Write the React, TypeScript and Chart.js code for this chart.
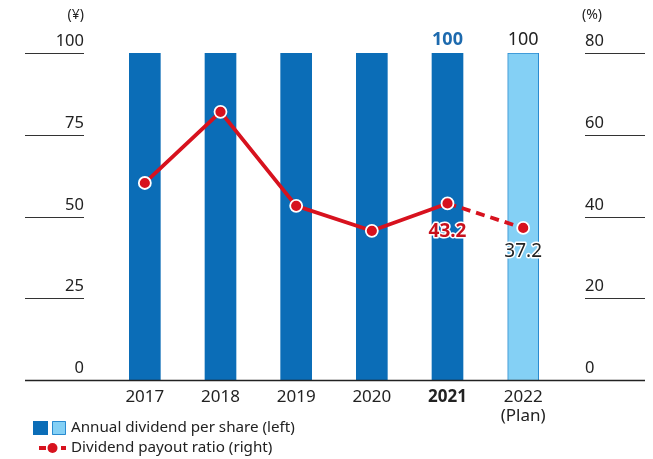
import React, { useEffect, useRef } from "react";
import { Chart, registerables } from "chart.js";

Chart.register(...registerables);

const years = ["2017", "2018", "2019", "2020", "2021", "2022"];
const dividends = [100, 100, 100, 100, 100, 100];
const payoutRatio = [48.2, 65.6, 42.6, 36.5, 43.2, 37.2];
const leftTicks = [0, 25, 50, 75, 100];
const rightTicks = [0, 20, 40, 60, 80];

const DARK = "#0B6DB7";
const LIGHT = "#84D0F5";
const LIGHT_BORDER = "#2A8BD0";
const RED = "#D7121E";
const FONT = "'Noto Sans', 'Open Sans', sans-serif";

const overlay = {
  id: "overlay",
  afterDatasetsDraw(chart: any) {
    const ctx = chart.ctx;
    const x = chart.scales.x;
    const y = chart.scales.y;
    const y1 = chart.scales.y1;
    ctx.save();
    // left axis
    ctx.strokeStyle = "#333";
    ctx.lineWidth = 1.2;
    ctx.fillStyle = "#222";
    ctx.font = `16.5px ${FONT}`;
    ctx.textBaseline = "middle";
    leftTicks.forEach((v) => {
      const py = Math.round(y.getPixelForValue(v)) + 0.5;
      if (v !== 0) {
        ctx.beginPath();
        ctx.moveTo(25, py);
        ctx.lineTo(84, py);
        ctx.stroke();
      }
      ctx.textAlign = "right";
      ctx.fillText(String(v), 84, py - 12);
    });
    rightTicks.forEach((v) => {
      const py = Math.round(y1.getPixelForValue(v)) + 0.5;
      if (v !== 0) {
        ctx.beginPath();
        ctx.moveTo(585, py);
        ctx.lineTo(645, py);
        ctx.stroke();
      }
      ctx.textAlign = "left";
      ctx.fillText(String(v), 585, py - 12);
    });
    // baseline
    const by = Math.round(y.getPixelForValue(0)) + 0.5;
    ctx.strokeStyle = "#222";
    ctx.lineWidth = 1.5;
    ctx.beginPath();
    ctx.moveTo(25, by);
    ctx.lineTo(645, by);
    ctx.stroke();
    // units
    ctx.font = `14px ${FONT}`;
    ctx.textAlign = "right";
    ctx.fillText("(¥)", 84, 15);
    ctx.textAlign = "left";
    ctx.fillText("(%)", 582, 15);
    // x labels
    years.forEach((yr, i) => {
      const px = x.getPixelForValue(i);
      ctx.textAlign = "center";
      ctx.fillStyle = "#222";
      ctx.font = i === 4 ? `bold 17px ${FONT}` : `17px ${FONT}`;
      ctx.fillText(yr, px, 397);
      if (i === 5) {
        ctx.font = `17px ${FONT}`;
        ctx.fillText("(Plan)", px, 416);
      }
    });
    // bar value labels
    const x4 = x.getPixelForValue(4);
    const x5 = x.getPixelForValue(5);
    const barTop = y.getPixelForValue(dividends[4]);
    ctx.textAlign = "center";
    ctx.font = `bold 18px ${FONT}`;
    ctx.fillStyle = "#1D6AAE";
    ctx.fillText(String(dividends[4]), x4, barTop - 13);
    ctx.font = `18px ${FONT}`;
    ctx.fillStyle = "#222";
    ctx.fillText(String(dividends[5]), x5, y.getPixelForValue(dividends[5]) - 13);
    // line value labels
    ctx.lineJoin = "round";
    ctx.lineWidth = 3;
    ctx.strokeStyle = "#fff";
    ctx.font = `bold 19px ${FONT}`;
    ctx.fillStyle = "#C8101C";
    const p4 = y1.getPixelForValue(payoutRatio[4]) + 28;
    ctx.strokeText(payoutRatio[4].toFixed(1), x4, p4);
    ctx.fillText(payoutRatio[4].toFixed(1), x4, p4);
    ctx.font = `19px ${FONT}`;
    ctx.fillStyle = "#222";
    const p5 = y1.getPixelForValue(payoutRatio[5]) + 24;
    ctx.strokeText(payoutRatio[5].toFixed(1), x5, p5);
    ctx.fillText(payoutRatio[5].toFixed(1), x5, p5);
    // legend
    ctx.fillStyle = DARK;
    ctx.fillRect(33, 421, 15, 14);
    ctx.fillStyle = LIGHT;
    ctx.fillRect(52, 421, 14, 14);
    ctx.strokeStyle = LIGHT_BORDER;
    ctx.lineWidth = 1;
    ctx.strokeRect(52.5, 421.5, 13, 13);
    ctx.fillStyle = "#222";
    ctx.font = `15.2px ${FONT}`;
    ctx.textAlign = "left";
    ctx.fillText("Annual dividend per share (left)", 71, 428);
    ctx.strokeStyle = RED;
    ctx.lineWidth = 4;
    ctx.setLineDash([7, 4]);
    ctx.beginPath();
    ctx.moveTo(39, 448);
    ctx.lineTo(66, 448);
    ctx.stroke();
    ctx.setLineDash([]);
    ctx.fillStyle = RED;
    ctx.beginPath();
    ctx.arc(52.5, 448, 5, 0, Math.PI * 2);
    ctx.fill();
    ctx.fillStyle = "#222";
    ctx.fillText("Dividend payout ratio (right)", 71, 448);
    ctx.restore();
  },
};

export default function App() {
  const ref = useRef<HTMLCanvasElement>(null);
  useEffect(() => {
    if (!ref.current) return;
    const chart = new Chart(ref.current, {
      type: "bar",
      data: {
        labels: years,
        datasets: [
          {
            type: "line",
            label: "Dividend payout ratio (right)",
            data: payoutRatio,
            yAxisID: "y1",
            borderColor: RED,
            borderWidth: 3.8,
            pointRadius: 6,
            pointBackgroundColor: RED,
            pointBorderColor: "#fff",
            pointBorderWidth: 1.8,
            tension: 0,
            order: 1,
            segment: {
              borderDash: (c: any) => (c.p0DataIndex === 4 ? [9, 6] : undefined),
            },
          } as any,
          {
            type: "bar",
            label: "Annual dividend per share (left)",
            data: dividends,
            yAxisID: "y",
            backgroundColor: dividends.map((_, i) => (i === 5 ? LIGHT : DARK)),
            borderColor: dividends.map((_, i) => (i === 5 ? LIGHT_BORDER : DARK)),
            borderWidth: dividends.map((_, i) => (i === 5 ? 1 : 0)),
            barThickness: 31,
            order: 2,
          } as any,
        ],
      },
      options: {
        animation: false,
        responsive: true,
        maintainAspectRatio: false,
        layout: { padding: { left: 107, right: 92, top: 53, bottom: 79 } },
        plugins: { legend: { display: false }, tooltip: { enabled: false } },
        scales: {
          x: { display: false, offset: true },
          y: { display: false, min: 0, max: 100 },
          y1: { display: false, min: 0, max: 80, position: "right" },
        },
      },
      plugins: [overlay],
    });
    return () => chart.destroy();
  }, []);
  return (
    <div style={{ position: "absolute", left: 0, top: 0, width: 653, height: 459, background: "#fff" }}>
      <canvas ref={ref} />
    </div>
  );
}
